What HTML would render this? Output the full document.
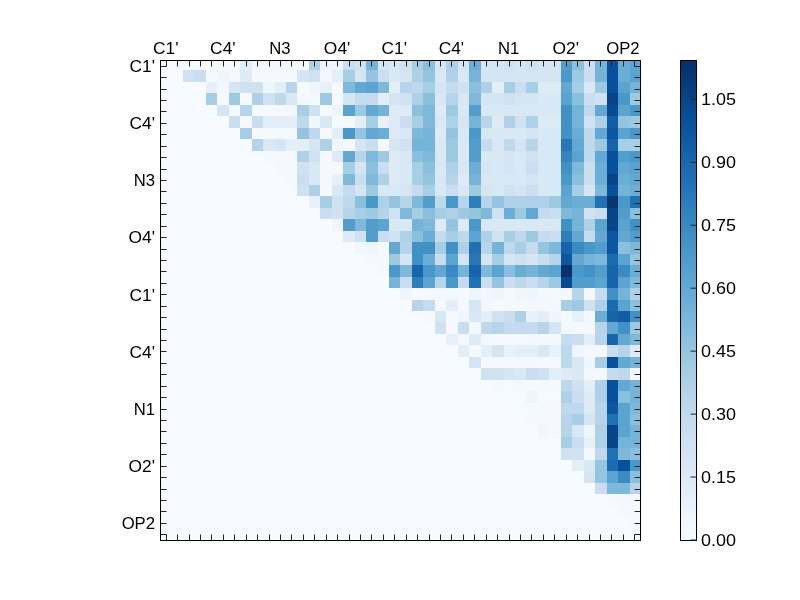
<!DOCTYPE html>
<html><head><meta charset="utf-8"><style>
html,body{margin:0;padding:0;background:#fff;}
body{width:800px;height:600px;overflow:hidden;}
svg{display:block;}
text{font-family:"Liberation Sans",sans-serif;font-size:16.67px;fill:#000;}
</style></head><body>
<svg width="800" height="600" viewBox="0 0 800 600">
<defs><linearGradient id="g" x1="0" y1="0" x2="0" y2="1"><stop offset="0.000" stop-color="#08306b"/><stop offset="0.050" stop-color="#083c7d"/><stop offset="0.100" stop-color="#084a91"/><stop offset="0.150" stop-color="#0d57a1"/><stop offset="0.200" stop-color="#1764ab"/><stop offset="0.250" stop-color="#2070b4"/><stop offset="0.300" stop-color="#2e7ebc"/><stop offset="0.350" stop-color="#3b8bc2"/><stop offset="0.400" stop-color="#4a98c9"/><stop offset="0.450" stop-color="#5ba3d0"/><stop offset="0.500" stop-color="#6aaed6"/><stop offset="0.550" stop-color="#7fb9da"/><stop offset="0.600" stop-color="#94c4df"/><stop offset="0.650" stop-color="#a6cee4"/><stop offset="0.700" stop-color="#b7d4ea"/><stop offset="0.750" stop-color="#c6dbef"/><stop offset="0.800" stop-color="#d0e1f2"/><stop offset="0.850" stop-color="#d9e8f5"/><stop offset="0.900" stop-color="#e3eef9"/><stop offset="0.950" stop-color="#eef5fc"/><stop offset="1.000" stop-color="#f7fbff"/></linearGradient></defs>
<rect x="0" y="0" width="800" height="600" fill="#fff"/>
<g shape-rendering="crispEdges">
<rect x="161" y="61" width="479" height="479" fill="#f7fbff"/>
<rect x="171" y="61" width="12" height="9" fill="#f5fafe"/>
<rect x="183" y="61" width="11" height="9" fill="#f5fafe"/>
<rect x="194" y="61" width="12" height="9" fill="#f5fafe"/>
<rect x="240" y="61" width="12" height="9" fill="#e3eef9"/>
<rect x="252" y="61" width="11" height="9" fill="#f2f8fd"/>
<rect x="263" y="61" width="12" height="9" fill="#f2f8fd"/>
<rect x="275" y="61" width="11" height="9" fill="#f2f8fd"/>
<rect x="286" y="61" width="11" height="9" fill="#f2f8fd"/>
<rect x="309" y="61" width="11" height="9" fill="#aed1e7"/>
<rect x="320" y="61" width="12" height="9" fill="#eef5fc"/>
<rect x="332" y="61" width="11" height="9" fill="#eff6fc"/>
<rect x="343" y="61" width="12" height="9" fill="#cbdef1"/>
<rect x="355" y="61" width="11" height="9" fill="#d0e1f2"/>
<rect x="366" y="61" width="12" height="9" fill="#75b4d8"/>
<rect x="378" y="61" width="11" height="9" fill="#d5e5f4"/>
<rect x="389" y="61" width="11" height="9" fill="#d9e8f5"/>
<rect x="400" y="61" width="12" height="9" fill="#d0e1f2"/>
<rect x="412" y="61" width="11" height="9" fill="#a6cee4"/>
<rect x="423" y="61" width="12" height="9" fill="#8abfdd"/>
<rect x="435" y="61" width="11" height="9" fill="#d5e5f4"/>
<rect x="446" y="61" width="12" height="9" fill="#aed1e7"/>
<rect x="458" y="61" width="11" height="9" fill="#d5e5f4"/>
<rect x="469" y="61" width="12" height="9" fill="#6aaed6"/>
<rect x="481" y="61" width="11" height="9" fill="#d5e5f4"/>
<rect x="492" y="61" width="12" height="9" fill="#d5e5f4"/>
<rect x="504" y="61" width="11" height="9" fill="#d0e1f2"/>
<rect x="515" y="61" width="11" height="9" fill="#d5e5f4"/>
<rect x="526" y="61" width="12" height="9" fill="#d0e1f2"/>
<rect x="538" y="61" width="11" height="9" fill="#d5e5f4"/>
<rect x="549" y="61" width="12" height="9" fill="#d5e5f4"/>
<rect x="561" y="61" width="11" height="9" fill="#529dcc"/>
<rect x="572" y="61" width="12" height="9" fill="#8abfdd"/>
<rect x="584" y="61" width="11" height="9" fill="#cbdef1"/>
<rect x="595" y="61" width="12" height="9" fill="#75b4d8"/>
<rect x="607" y="61" width="11" height="9" fill="#08509b"/>
<rect x="618" y="61" width="12" height="9" fill="#6aaed6"/>
<rect x="630" y="61" width="10" height="9" fill="#5ba3d0"/>
<rect x="183" y="70" width="11" height="12" fill="#d0e1f2"/>
<rect x="194" y="70" width="12" height="12" fill="#cbdef1"/>
<rect x="206" y="70" width="11" height="12" fill="#f5f9fe"/>
<rect x="217" y="70" width="12" height="12" fill="#eef5fc"/>
<rect x="229" y="70" width="11" height="12" fill="#f5f9fe"/>
<rect x="240" y="70" width="12" height="12" fill="#deebf7"/>
<rect x="252" y="70" width="11" height="12" fill="#f5f9fe"/>
<rect x="263" y="70" width="12" height="12" fill="#f5f9fe"/>
<rect x="275" y="70" width="11" height="12" fill="#f5f9fe"/>
<rect x="286" y="70" width="11" height="12" fill="#f5f9fe"/>
<rect x="297" y="70" width="12" height="12" fill="#d5e5f4"/>
<rect x="309" y="70" width="11" height="12" fill="#d0e1f2"/>
<rect x="320" y="70" width="12" height="12" fill="#f2f8fd"/>
<rect x="332" y="70" width="11" height="12" fill="#e3eef9"/>
<rect x="343" y="70" width="12" height="12" fill="#a6cee4"/>
<rect x="355" y="70" width="11" height="12" fill="#d5e5f4"/>
<rect x="366" y="70" width="12" height="12" fill="#94c4df"/>
<rect x="378" y="70" width="11" height="12" fill="#cbdef1"/>
<rect x="389" y="70" width="11" height="12" fill="#d9e8f5"/>
<rect x="400" y="70" width="12" height="12" fill="#d5e5f4"/>
<rect x="412" y="70" width="11" height="12" fill="#aed1e7"/>
<rect x="423" y="70" width="12" height="12" fill="#94c4df"/>
<rect x="435" y="70" width="11" height="12" fill="#d9e8f5"/>
<rect x="446" y="70" width="12" height="12" fill="#aed1e7"/>
<rect x="458" y="70" width="11" height="12" fill="#d9e8f5"/>
<rect x="469" y="70" width="12" height="12" fill="#75b4d8"/>
<rect x="481" y="70" width="11" height="12" fill="#d5e5f4"/>
<rect x="492" y="70" width="12" height="12" fill="#d5e5f4"/>
<rect x="504" y="70" width="11" height="12" fill="#d5e5f4"/>
<rect x="515" y="70" width="11" height="12" fill="#d5e5f4"/>
<rect x="526" y="70" width="12" height="12" fill="#d5e5f4"/>
<rect x="538" y="70" width="11" height="12" fill="#d5e5f4"/>
<rect x="549" y="70" width="12" height="12" fill="#d5e5f4"/>
<rect x="561" y="70" width="11" height="12" fill="#4a98c9"/>
<rect x="572" y="70" width="12" height="12" fill="#9dcae1"/>
<rect x="584" y="70" width="11" height="12" fill="#cbdef1"/>
<rect x="595" y="70" width="12" height="12" fill="#75b4d8"/>
<rect x="607" y="70" width="11" height="12" fill="#08509b"/>
<rect x="618" y="70" width="12" height="12" fill="#6aaed6"/>
<rect x="630" y="70" width="10" height="12" fill="#5ba3d0"/>
<rect x="206" y="82" width="11" height="11" fill="#e8f1fa"/>
<rect x="217" y="82" width="12" height="11" fill="#f2f8fd"/>
<rect x="229" y="82" width="11" height="11" fill="#d5e5f4"/>
<rect x="240" y="82" width="12" height="11" fill="#d0e1f2"/>
<rect x="252" y="82" width="11" height="11" fill="#d0e1f2"/>
<rect x="263" y="82" width="12" height="11" fill="#eef5fc"/>
<rect x="275" y="82" width="11" height="11" fill="#e3eef9"/>
<rect x="286" y="82" width="11" height="11" fill="#b7d4ea"/>
<rect x="309" y="82" width="11" height="11" fill="#eef5fc"/>
<rect x="320" y="82" width="12" height="11" fill="#e8f1fa"/>
<rect x="332" y="82" width="11" height="11" fill="#f5f9fe"/>
<rect x="343" y="82" width="12" height="11" fill="#7fb9da"/>
<rect x="355" y="82" width="11" height="11" fill="#63a8d3"/>
<rect x="366" y="82" width="12" height="11" fill="#5ba3d0"/>
<rect x="378" y="82" width="11" height="11" fill="#7fb9da"/>
<rect x="389" y="82" width="11" height="11" fill="#e3eef9"/>
<rect x="400" y="82" width="12" height="11" fill="#b7d4ea"/>
<rect x="412" y="82" width="11" height="11" fill="#bed8ec"/>
<rect x="423" y="82" width="12" height="11" fill="#a6cee4"/>
<rect x="435" y="82" width="11" height="11" fill="#d5e5f4"/>
<rect x="446" y="82" width="12" height="11" fill="#c6dbef"/>
<rect x="458" y="82" width="11" height="11" fill="#d0e1f2"/>
<rect x="469" y="82" width="12" height="11" fill="#8abfdd"/>
<rect x="481" y="82" width="11" height="11" fill="#aed1e7"/>
<rect x="492" y="82" width="12" height="11" fill="#e3eef9"/>
<rect x="504" y="82" width="11" height="11" fill="#a6cee4"/>
<rect x="515" y="82" width="11" height="11" fill="#cbdef1"/>
<rect x="526" y="82" width="12" height="11" fill="#a6cee4"/>
<rect x="538" y="82" width="11" height="11" fill="#deebf7"/>
<rect x="549" y="82" width="12" height="11" fill="#deebf7"/>
<rect x="561" y="82" width="11" height="11" fill="#63a8d3"/>
<rect x="572" y="82" width="12" height="11" fill="#a6cee4"/>
<rect x="584" y="82" width="11" height="11" fill="#d9e8f5"/>
<rect x="595" y="82" width="12" height="11" fill="#9dcae1"/>
<rect x="607" y="82" width="11" height="11" fill="#08509b"/>
<rect x="618" y="82" width="12" height="11" fill="#5ba3d0"/>
<rect x="630" y="82" width="10" height="11" fill="#75b4d8"/>
<rect x="206" y="93" width="11" height="12" fill="#a6cee4"/>
<rect x="217" y="93" width="12" height="12" fill="#f5f9fe"/>
<rect x="229" y="93" width="11" height="12" fill="#9dcae1"/>
<rect x="240" y="93" width="12" height="12" fill="#f5f9fe"/>
<rect x="252" y="93" width="11" height="12" fill="#aed1e7"/>
<rect x="263" y="93" width="12" height="12" fill="#d0e1f2"/>
<rect x="275" y="93" width="11" height="12" fill="#bed8ec"/>
<rect x="286" y="93" width="11" height="12" fill="#d9e8f5"/>
<rect x="297" y="93" width="12" height="12" fill="#f2f8fd"/>
<rect x="309" y="93" width="11" height="12" fill="#f5f9fe"/>
<rect x="320" y="93" width="12" height="12" fill="#9dcae1"/>
<rect x="332" y="93" width="11" height="12" fill="#f2f8fd"/>
<rect x="343" y="93" width="12" height="12" fill="#d5e5f4"/>
<rect x="355" y="93" width="11" height="12" fill="#c6dbef"/>
<rect x="366" y="93" width="12" height="12" fill="#c6dbef"/>
<rect x="378" y="93" width="11" height="12" fill="#e3eef9"/>
<rect x="389" y="93" width="11" height="12" fill="#d5e5f4"/>
<rect x="400" y="93" width="12" height="12" fill="#d0e1f2"/>
<rect x="412" y="93" width="11" height="12" fill="#aed1e7"/>
<rect x="423" y="93" width="12" height="12" fill="#8abfdd"/>
<rect x="435" y="93" width="11" height="12" fill="#d9e8f5"/>
<rect x="446" y="93" width="12" height="12" fill="#b7d4ea"/>
<rect x="458" y="93" width="11" height="12" fill="#d9e8f5"/>
<rect x="469" y="93" width="12" height="12" fill="#7fb9da"/>
<rect x="481" y="93" width="11" height="12" fill="#d5e5f4"/>
<rect x="492" y="93" width="12" height="12" fill="#d5e5f4"/>
<rect x="504" y="93" width="11" height="12" fill="#d0e1f2"/>
<rect x="515" y="93" width="11" height="12" fill="#d5e5f4"/>
<rect x="526" y="93" width="12" height="12" fill="#d5e5f4"/>
<rect x="538" y="93" width="11" height="12" fill="#d9e8f5"/>
<rect x="549" y="93" width="12" height="12" fill="#d9e8f5"/>
<rect x="561" y="93" width="11" height="12" fill="#5ba3d0"/>
<rect x="572" y="93" width="12" height="12" fill="#8abfdd"/>
<rect x="584" y="93" width="11" height="12" fill="#cbdef1"/>
<rect x="595" y="93" width="12" height="12" fill="#d0e1f2"/>
<rect x="607" y="93" width="11" height="12" fill="#084488"/>
<rect x="618" y="93" width="12" height="12" fill="#4a98c9"/>
<rect x="630" y="93" width="10" height="12" fill="#9dcae1"/>
<rect x="217" y="105" width="12" height="11" fill="#d5e5f4"/>
<rect x="229" y="105" width="11" height="11" fill="#f2f8fd"/>
<rect x="240" y="105" width="12" height="11" fill="#b7d4ea"/>
<rect x="252" y="105" width="11" height="11" fill="#f5f9fe"/>
<rect x="263" y="105" width="12" height="11" fill="#f5f9fe"/>
<rect x="275" y="105" width="11" height="11" fill="#f5f9fe"/>
<rect x="286" y="105" width="11" height="11" fill="#f2f8fd"/>
<rect x="297" y="105" width="12" height="11" fill="#a6cee4"/>
<rect x="309" y="105" width="11" height="11" fill="#d0e1f2"/>
<rect x="320" y="105" width="12" height="11" fill="#f5f9fe"/>
<rect x="332" y="105" width="11" height="11" fill="#eef5fc"/>
<rect x="343" y="105" width="12" height="11" fill="#5ba3d0"/>
<rect x="355" y="105" width="11" height="11" fill="#9dcae1"/>
<rect x="366" y="105" width="12" height="11" fill="#63a8d3"/>
<rect x="378" y="105" width="11" height="11" fill="#75b4d8"/>
<rect x="389" y="105" width="11" height="11" fill="#deebf7"/>
<rect x="400" y="105" width="12" height="11" fill="#deebf7"/>
<rect x="412" y="105" width="11" height="11" fill="#8abfdd"/>
<rect x="423" y="105" width="12" height="11" fill="#7fb9da"/>
<rect x="435" y="105" width="11" height="11" fill="#deebf7"/>
<rect x="446" y="105" width="12" height="11" fill="#9dcae1"/>
<rect x="458" y="105" width="11" height="11" fill="#d9e8f5"/>
<rect x="469" y="105" width="12" height="11" fill="#529dcc"/>
<rect x="481" y="105" width="11" height="11" fill="#d9e8f5"/>
<rect x="492" y="105" width="12" height="11" fill="#d9e8f5"/>
<rect x="504" y="105" width="11" height="11" fill="#d9e8f5"/>
<rect x="515" y="105" width="11" height="11" fill="#d9e8f5"/>
<rect x="526" y="105" width="12" height="11" fill="#d9e8f5"/>
<rect x="538" y="105" width="11" height="11" fill="#d9e8f5"/>
<rect x="549" y="105" width="12" height="11" fill="#d9e8f5"/>
<rect x="561" y="105" width="11" height="11" fill="#4191c6"/>
<rect x="572" y="105" width="12" height="11" fill="#75b4d8"/>
<rect x="584" y="105" width="11" height="11" fill="#bed8ec"/>
<rect x="595" y="105" width="12" height="11" fill="#63a8d3"/>
<rect x="607" y="105" width="11" height="11" fill="#084a91"/>
<rect x="618" y="105" width="12" height="11" fill="#5ba3d0"/>
<rect x="630" y="105" width="10" height="11" fill="#4a98c9"/>
<rect x="229" y="116" width="11" height="12" fill="#cbdef1"/>
<rect x="240" y="116" width="12" height="12" fill="#f5f9fe"/>
<rect x="252" y="116" width="11" height="12" fill="#cbdef1"/>
<rect x="263" y="116" width="12" height="12" fill="#e3eef9"/>
<rect x="275" y="116" width="11" height="12" fill="#e3eef9"/>
<rect x="286" y="116" width="11" height="12" fill="#e3eef9"/>
<rect x="297" y="116" width="12" height="12" fill="#bed8ec"/>
<rect x="309" y="116" width="11" height="12" fill="#eff6fc"/>
<rect x="320" y="116" width="12" height="12" fill="#d9e8f5"/>
<rect x="332" y="116" width="11" height="12" fill="#f5f9fe"/>
<rect x="343" y="116" width="12" height="12" fill="#f5f9fe"/>
<rect x="355" y="116" width="11" height="12" fill="#e3eef9"/>
<rect x="366" y="116" width="12" height="12" fill="#a6cee4"/>
<rect x="378" y="116" width="11" height="12" fill="#e8f1fa"/>
<rect x="389" y="116" width="11" height="12" fill="#deebf7"/>
<rect x="400" y="116" width="12" height="12" fill="#cbdef1"/>
<rect x="412" y="116" width="11" height="12" fill="#a6cee4"/>
<rect x="423" y="116" width="12" height="12" fill="#7fb9da"/>
<rect x="435" y="116" width="11" height="12" fill="#d9e8f5"/>
<rect x="446" y="116" width="12" height="12" fill="#aed1e7"/>
<rect x="458" y="116" width="11" height="12" fill="#d5e5f4"/>
<rect x="469" y="116" width="12" height="12" fill="#75b4d8"/>
<rect x="481" y="116" width="11" height="12" fill="#b7d4ea"/>
<rect x="492" y="116" width="12" height="12" fill="#deebf7"/>
<rect x="504" y="116" width="11" height="12" fill="#aed1e7"/>
<rect x="515" y="116" width="11" height="12" fill="#d0e1f2"/>
<rect x="526" y="116" width="12" height="12" fill="#aed1e7"/>
<rect x="538" y="116" width="11" height="12" fill="#deebf7"/>
<rect x="549" y="116" width="12" height="12" fill="#deebf7"/>
<rect x="561" y="116" width="11" height="12" fill="#4191c6"/>
<rect x="572" y="116" width="12" height="12" fill="#75b4d8"/>
<rect x="584" y="116" width="11" height="12" fill="#d0e1f2"/>
<rect x="595" y="116" width="12" height="12" fill="#aed1e7"/>
<rect x="607" y="116" width="11" height="12" fill="#125da6"/>
<rect x="618" y="116" width="12" height="12" fill="#94c4df"/>
<rect x="630" y="116" width="10" height="12" fill="#9dcae1"/>
<rect x="240" y="128" width="12" height="11" fill="#a6cee4"/>
<rect x="252" y="128" width="11" height="11" fill="#f5f9fe"/>
<rect x="263" y="128" width="12" height="11" fill="#f5f9fe"/>
<rect x="275" y="128" width="11" height="11" fill="#f5f9fe"/>
<rect x="286" y="128" width="11" height="11" fill="#f5f9fe"/>
<rect x="297" y="128" width="12" height="11" fill="#94c4df"/>
<rect x="309" y="128" width="11" height="11" fill="#bed8ec"/>
<rect x="320" y="128" width="12" height="11" fill="#f5f9fe"/>
<rect x="332" y="128" width="11" height="11" fill="#e3eef9"/>
<rect x="343" y="128" width="12" height="11" fill="#4a98c9"/>
<rect x="355" y="128" width="11" height="11" fill="#94c4df"/>
<rect x="366" y="128" width="12" height="11" fill="#63a8d3"/>
<rect x="378" y="128" width="11" height="11" fill="#6aaed6"/>
<rect x="389" y="128" width="11" height="11" fill="#deebf7"/>
<rect x="400" y="128" width="12" height="11" fill="#d9e8f5"/>
<rect x="412" y="128" width="11" height="11" fill="#7fb9da"/>
<rect x="423" y="128" width="12" height="11" fill="#75b4d8"/>
<rect x="435" y="128" width="11" height="11" fill="#deebf7"/>
<rect x="446" y="128" width="12" height="11" fill="#94c4df"/>
<rect x="458" y="128" width="11" height="11" fill="#d9e8f5"/>
<rect x="469" y="128" width="12" height="11" fill="#4a98c9"/>
<rect x="481" y="128" width="11" height="11" fill="#d9e8f5"/>
<rect x="492" y="128" width="12" height="11" fill="#d9e8f5"/>
<rect x="504" y="128" width="11" height="11" fill="#d9e8f5"/>
<rect x="515" y="128" width="11" height="11" fill="#d9e8f5"/>
<rect x="526" y="128" width="12" height="11" fill="#d5e5f4"/>
<rect x="538" y="128" width="11" height="11" fill="#d9e8f5"/>
<rect x="549" y="128" width="12" height="11" fill="#d9e8f5"/>
<rect x="561" y="128" width="11" height="11" fill="#4191c6"/>
<rect x="572" y="128" width="12" height="11" fill="#6aaed6"/>
<rect x="584" y="128" width="11" height="11" fill="#bed8ec"/>
<rect x="595" y="128" width="12" height="11" fill="#63a8d3"/>
<rect x="607" y="128" width="11" height="11" fill="#0d57a1"/>
<rect x="618" y="128" width="12" height="11" fill="#5ba3d0"/>
<rect x="630" y="128" width="10" height="11" fill="#4a98c9"/>
<rect x="252" y="139" width="11" height="12" fill="#b7d4ea"/>
<rect x="263" y="139" width="12" height="12" fill="#d9e8f5"/>
<rect x="275" y="139" width="11" height="12" fill="#d5e5f4"/>
<rect x="286" y="139" width="11" height="12" fill="#e3eef9"/>
<rect x="297" y="139" width="12" height="12" fill="#e3eef9"/>
<rect x="309" y="139" width="11" height="12" fill="#d5e5f4"/>
<rect x="320" y="139" width="12" height="12" fill="#aed1e7"/>
<rect x="332" y="139" width="11" height="12" fill="#eff6fc"/>
<rect x="343" y="139" width="12" height="12" fill="#f5f9fe"/>
<rect x="355" y="139" width="11" height="12" fill="#d5e5f4"/>
<rect x="366" y="139" width="12" height="12" fill="#cbdef1"/>
<rect x="378" y="139" width="11" height="12" fill="#f5f9fe"/>
<rect x="389" y="139" width="11" height="12" fill="#d5e5f4"/>
<rect x="400" y="139" width="12" height="12" fill="#d0e1f2"/>
<rect x="412" y="139" width="11" height="12" fill="#75b4d8"/>
<rect x="423" y="139" width="12" height="12" fill="#75b4d8"/>
<rect x="435" y="139" width="11" height="12" fill="#d9e8f5"/>
<rect x="446" y="139" width="12" height="12" fill="#9dcae1"/>
<rect x="458" y="139" width="11" height="12" fill="#d9e8f5"/>
<rect x="469" y="139" width="12" height="12" fill="#529dcc"/>
<rect x="481" y="139" width="11" height="12" fill="#c6dbef"/>
<rect x="492" y="139" width="12" height="12" fill="#d9e8f5"/>
<rect x="504" y="139" width="11" height="12" fill="#bed8ec"/>
<rect x="515" y="139" width="11" height="12" fill="#d5e5f4"/>
<rect x="526" y="139" width="12" height="12" fill="#b7d4ea"/>
<rect x="538" y="139" width="11" height="12" fill="#d9e8f5"/>
<rect x="549" y="139" width="12" height="12" fill="#d9e8f5"/>
<rect x="561" y="139" width="11" height="12" fill="#2777b8"/>
<rect x="572" y="139" width="12" height="12" fill="#63a8d3"/>
<rect x="584" y="139" width="11" height="12" fill="#bed8ec"/>
<rect x="595" y="139" width="12" height="12" fill="#9dcae1"/>
<rect x="607" y="139" width="11" height="12" fill="#1764ab"/>
<rect x="618" y="139" width="12" height="12" fill="#a6cee4"/>
<rect x="630" y="139" width="10" height="12" fill="#a6cee4"/>
<rect x="263" y="151" width="12" height="11" fill="#f5f9fe"/>
<rect x="275" y="151" width="11" height="11" fill="#f5f9fe"/>
<rect x="286" y="151" width="11" height="11" fill="#f5f9fe"/>
<rect x="297" y="151" width="12" height="11" fill="#aed1e7"/>
<rect x="309" y="151" width="11" height="11" fill="#d0e1f2"/>
<rect x="320" y="151" width="12" height="11" fill="#f5f9fe"/>
<rect x="332" y="151" width="11" height="11" fill="#deebf7"/>
<rect x="343" y="151" width="12" height="11" fill="#63a8d3"/>
<rect x="355" y="151" width="11" height="11" fill="#b7d4ea"/>
<rect x="366" y="151" width="12" height="11" fill="#7fb9da"/>
<rect x="378" y="151" width="11" height="11" fill="#9dcae1"/>
<rect x="389" y="151" width="11" height="11" fill="#deebf7"/>
<rect x="400" y="151" width="12" height="11" fill="#d9e8f5"/>
<rect x="412" y="151" width="11" height="11" fill="#8abfdd"/>
<rect x="423" y="151" width="12" height="11" fill="#7fb9da"/>
<rect x="435" y="151" width="11" height="11" fill="#d9e8f5"/>
<rect x="446" y="151" width="12" height="11" fill="#9dcae1"/>
<rect x="458" y="151" width="11" height="11" fill="#d9e8f5"/>
<rect x="469" y="151" width="12" height="11" fill="#529dcc"/>
<rect x="481" y="151" width="11" height="11" fill="#d9e8f5"/>
<rect x="492" y="151" width="12" height="11" fill="#d9e8f5"/>
<rect x="504" y="151" width="11" height="11" fill="#d5e5f4"/>
<rect x="515" y="151" width="11" height="11" fill="#d9e8f5"/>
<rect x="526" y="151" width="12" height="11" fill="#d0e1f2"/>
<rect x="538" y="151" width="11" height="11" fill="#d9e8f5"/>
<rect x="549" y="151" width="12" height="11" fill="#d9e8f5"/>
<rect x="561" y="151" width="11" height="11" fill="#3585bf"/>
<rect x="572" y="151" width="12" height="11" fill="#5ba3d0"/>
<rect x="584" y="151" width="11" height="11" fill="#bed8ec"/>
<rect x="595" y="151" width="12" height="11" fill="#63a8d3"/>
<rect x="607" y="151" width="11" height="11" fill="#08509b"/>
<rect x="618" y="151" width="12" height="11" fill="#529dcc"/>
<rect x="630" y="151" width="10" height="11" fill="#4a98c9"/>
<rect x="275" y="162" width="11" height="12" fill="#f5f9fe"/>
<rect x="286" y="162" width="11" height="12" fill="#f5f9fe"/>
<rect x="297" y="162" width="12" height="12" fill="#d0e1f2"/>
<rect x="309" y="162" width="11" height="12" fill="#d9e8f5"/>
<rect x="320" y="162" width="12" height="12" fill="#f5f9fe"/>
<rect x="332" y="162" width="11" height="12" fill="#f5f9fe"/>
<rect x="343" y="162" width="12" height="12" fill="#a6cee4"/>
<rect x="355" y="162" width="11" height="12" fill="#d5e5f4"/>
<rect x="366" y="162" width="12" height="12" fill="#8abfdd"/>
<rect x="378" y="162" width="11" height="12" fill="#cbdef1"/>
<rect x="389" y="162" width="11" height="12" fill="#deebf7"/>
<rect x="400" y="162" width="12" height="12" fill="#d9e8f5"/>
<rect x="412" y="162" width="11" height="12" fill="#a6cee4"/>
<rect x="423" y="162" width="12" height="12" fill="#8abfdd"/>
<rect x="435" y="162" width="11" height="12" fill="#d9e8f5"/>
<rect x="446" y="162" width="12" height="12" fill="#aed1e7"/>
<rect x="458" y="162" width="11" height="12" fill="#d9e8f5"/>
<rect x="469" y="162" width="12" height="12" fill="#6aaed6"/>
<rect x="481" y="162" width="11" height="12" fill="#d5e5f4"/>
<rect x="492" y="162" width="12" height="12" fill="#d9e8f5"/>
<rect x="504" y="162" width="11" height="12" fill="#d5e5f4"/>
<rect x="515" y="162" width="11" height="12" fill="#d9e8f5"/>
<rect x="526" y="162" width="12" height="12" fill="#cbdef1"/>
<rect x="538" y="162" width="11" height="12" fill="#d9e8f5"/>
<rect x="549" y="162" width="12" height="12" fill="#d9e8f5"/>
<rect x="561" y="162" width="11" height="12" fill="#4191c6"/>
<rect x="572" y="162" width="12" height="12" fill="#7fb9da"/>
<rect x="584" y="162" width="11" height="12" fill="#cbdef1"/>
<rect x="595" y="162" width="12" height="12" fill="#6aaed6"/>
<rect x="607" y="162" width="11" height="12" fill="#08509b"/>
<rect x="618" y="162" width="12" height="12" fill="#63a8d3"/>
<rect x="630" y="162" width="10" height="12" fill="#5ba3d0"/>
<rect x="286" y="174" width="11" height="11" fill="#f5f9fe"/>
<rect x="297" y="174" width="12" height="11" fill="#cbdef1"/>
<rect x="309" y="174" width="11" height="11" fill="#d9e8f5"/>
<rect x="320" y="174" width="12" height="11" fill="#f5f9fe"/>
<rect x="332" y="174" width="11" height="11" fill="#e8f1fa"/>
<rect x="343" y="174" width="12" height="11" fill="#7fb9da"/>
<rect x="355" y="174" width="11" height="11" fill="#cbdef1"/>
<rect x="366" y="174" width="12" height="11" fill="#7fb9da"/>
<rect x="378" y="174" width="11" height="11" fill="#aed1e7"/>
<rect x="389" y="174" width="11" height="11" fill="#deebf7"/>
<rect x="400" y="174" width="12" height="11" fill="#d9e8f5"/>
<rect x="412" y="174" width="11" height="11" fill="#a6cee4"/>
<rect x="423" y="174" width="12" height="11" fill="#94c4df"/>
<rect x="435" y="174" width="11" height="11" fill="#d9e8f5"/>
<rect x="446" y="174" width="12" height="11" fill="#b7d4ea"/>
<rect x="458" y="174" width="11" height="11" fill="#deebf7"/>
<rect x="469" y="174" width="12" height="11" fill="#75b4d8"/>
<rect x="481" y="174" width="11" height="11" fill="#d9e8f5"/>
<rect x="492" y="174" width="12" height="11" fill="#d9e8f5"/>
<rect x="504" y="174" width="11" height="11" fill="#d9e8f5"/>
<rect x="515" y="174" width="11" height="11" fill="#d9e8f5"/>
<rect x="526" y="174" width="12" height="11" fill="#d5e5f4"/>
<rect x="538" y="174" width="11" height="11" fill="#d9e8f5"/>
<rect x="549" y="174" width="12" height="11" fill="#d9e8f5"/>
<rect x="561" y="174" width="11" height="11" fill="#4a98c9"/>
<rect x="572" y="174" width="12" height="11" fill="#8abfdd"/>
<rect x="584" y="174" width="11" height="11" fill="#cbdef1"/>
<rect x="595" y="174" width="12" height="11" fill="#6aaed6"/>
<rect x="607" y="174" width="11" height="11" fill="#084488"/>
<rect x="618" y="174" width="12" height="11" fill="#6aaed6"/>
<rect x="630" y="174" width="10" height="11" fill="#63a8d3"/>
<rect x="297" y="185" width="12" height="11" fill="#d0e1f2"/>
<rect x="309" y="185" width="11" height="11" fill="#aed1e7"/>
<rect x="320" y="185" width="12" height="11" fill="#f5f9fe"/>
<rect x="332" y="185" width="11" height="11" fill="#d9e8f5"/>
<rect x="343" y="185" width="12" height="11" fill="#c6dbef"/>
<rect x="355" y="185" width="11" height="11" fill="#d5e5f4"/>
<rect x="366" y="185" width="12" height="11" fill="#9dcae1"/>
<rect x="378" y="185" width="11" height="11" fill="#d9e8f5"/>
<rect x="389" y="185" width="11" height="11" fill="#d9e8f5"/>
<rect x="400" y="185" width="12" height="11" fill="#d5e5f4"/>
<rect x="412" y="185" width="11" height="11" fill="#c6dbef"/>
<rect x="423" y="185" width="12" height="11" fill="#a6cee4"/>
<rect x="435" y="185" width="11" height="11" fill="#d9e8f5"/>
<rect x="446" y="185" width="12" height="11" fill="#cbdef1"/>
<rect x="458" y="185" width="11" height="11" fill="#d9e8f5"/>
<rect x="469" y="185" width="12" height="11" fill="#9dcae1"/>
<rect x="481" y="185" width="11" height="11" fill="#d5e5f4"/>
<rect x="492" y="185" width="12" height="11" fill="#d9e8f5"/>
<rect x="504" y="185" width="11" height="11" fill="#d0e1f2"/>
<rect x="515" y="185" width="11" height="11" fill="#d5e5f4"/>
<rect x="526" y="185" width="12" height="11" fill="#cbdef1"/>
<rect x="538" y="185" width="11" height="11" fill="#d9e8f5"/>
<rect x="549" y="185" width="12" height="11" fill="#d9e8f5"/>
<rect x="561" y="185" width="11" height="11" fill="#5ba3d0"/>
<rect x="572" y="185" width="12" height="11" fill="#a6cee4"/>
<rect x="584" y="185" width="11" height="11" fill="#d5e5f4"/>
<rect x="595" y="185" width="12" height="11" fill="#7fb9da"/>
<rect x="607" y="185" width="11" height="11" fill="#08509b"/>
<rect x="618" y="185" width="12" height="11" fill="#75b4d8"/>
<rect x="630" y="185" width="10" height="11" fill="#6aaed6"/>
<rect x="309" y="196" width="11" height="12" fill="#e8f1fa"/>
<rect x="320" y="196" width="12" height="12" fill="#a6cee4"/>
<rect x="332" y="196" width="11" height="12" fill="#d0e1f2"/>
<rect x="343" y="196" width="12" height="12" fill="#bed8ec"/>
<rect x="355" y="196" width="11" height="12" fill="#8abfdd"/>
<rect x="366" y="196" width="12" height="12" fill="#4a98c9"/>
<rect x="378" y="196" width="11" height="12" fill="#aed1e7"/>
<rect x="389" y="196" width="11" height="12" fill="#94c4df"/>
<rect x="400" y="196" width="12" height="12" fill="#b7d4ea"/>
<rect x="412" y="196" width="11" height="12" fill="#7fb9da"/>
<rect x="423" y="196" width="12" height="12" fill="#529dcc"/>
<rect x="435" y="196" width="11" height="12" fill="#bed8ec"/>
<rect x="446" y="196" width="12" height="12" fill="#4a98c9"/>
<rect x="458" y="196" width="11" height="12" fill="#b7d4ea"/>
<rect x="469" y="196" width="12" height="12" fill="#2e7ebc"/>
<rect x="481" y="196" width="11" height="12" fill="#b7d4ea"/>
<rect x="492" y="196" width="12" height="12" fill="#94c4df"/>
<rect x="504" y="196" width="11" height="12" fill="#aed1e7"/>
<rect x="515" y="196" width="11" height="12" fill="#aed1e7"/>
<rect x="526" y="196" width="12" height="12" fill="#aed1e7"/>
<rect x="538" y="196" width="11" height="12" fill="#aed1e7"/>
<rect x="549" y="196" width="12" height="12" fill="#9dcae1"/>
<rect x="561" y="196" width="11" height="12" fill="#63a8d3"/>
<rect x="572" y="196" width="12" height="12" fill="#6aaed6"/>
<rect x="584" y="196" width="11" height="12" fill="#6aaed6"/>
<rect x="595" y="196" width="12" height="12" fill="#2070b4"/>
<rect x="607" y="196" width="11" height="12" fill="#083674"/>
<rect x="618" y="196" width="12" height="12" fill="#4a98c9"/>
<rect x="630" y="196" width="10" height="12" fill="#2070b4"/>
<rect x="320" y="208" width="12" height="11" fill="#cbdef1"/>
<rect x="332" y="208" width="11" height="11" fill="#d0e1f2"/>
<rect x="343" y="208" width="12" height="11" fill="#b7d4ea"/>
<rect x="355" y="208" width="11" height="11" fill="#a6cee4"/>
<rect x="366" y="208" width="12" height="11" fill="#9dcae1"/>
<rect x="378" y="208" width="11" height="11" fill="#b7d4ea"/>
<rect x="389" y="208" width="11" height="11" fill="#d0e1f2"/>
<rect x="400" y="208" width="12" height="11" fill="#7fb9da"/>
<rect x="412" y="208" width="11" height="11" fill="#a6cee4"/>
<rect x="423" y="208" width="12" height="11" fill="#8abfdd"/>
<rect x="435" y="208" width="11" height="11" fill="#a6cee4"/>
<rect x="446" y="208" width="12" height="11" fill="#aed1e7"/>
<rect x="458" y="208" width="11" height="11" fill="#9dcae1"/>
<rect x="469" y="208" width="12" height="11" fill="#94c4df"/>
<rect x="481" y="208" width="11" height="11" fill="#7fb9da"/>
<rect x="492" y="208" width="12" height="11" fill="#d0e1f2"/>
<rect x="504" y="208" width="11" height="11" fill="#6aaed6"/>
<rect x="515" y="208" width="11" height="11" fill="#9dcae1"/>
<rect x="526" y="208" width="12" height="11" fill="#63a8d3"/>
<rect x="538" y="208" width="11" height="11" fill="#c6dbef"/>
<rect x="549" y="208" width="12" height="11" fill="#cbdef1"/>
<rect x="561" y="208" width="11" height="11" fill="#7fb9da"/>
<rect x="572" y="208" width="12" height="11" fill="#75b4d8"/>
<rect x="584" y="208" width="11" height="11" fill="#d0e1f2"/>
<rect x="595" y="208" width="12" height="11" fill="#cbdef1"/>
<rect x="607" y="208" width="11" height="11" fill="#084488"/>
<rect x="618" y="208" width="12" height="11" fill="#529dcc"/>
<rect x="630" y="208" width="10" height="11" fill="#8abfdd"/>
<rect x="332" y="219" width="11" height="12" fill="#eef5fc"/>
<rect x="343" y="219" width="12" height="12" fill="#529dcc"/>
<rect x="355" y="219" width="11" height="12" fill="#7fb9da"/>
<rect x="366" y="219" width="12" height="12" fill="#529dcc"/>
<rect x="378" y="219" width="11" height="12" fill="#5ba3d0"/>
<rect x="389" y="219" width="11" height="12" fill="#d9e8f5"/>
<rect x="400" y="219" width="12" height="12" fill="#d9e8f5"/>
<rect x="412" y="219" width="11" height="12" fill="#75b4d8"/>
<rect x="423" y="219" width="12" height="12" fill="#7fb9da"/>
<rect x="435" y="219" width="11" height="12" fill="#deebf7"/>
<rect x="446" y="219" width="12" height="12" fill="#94c4df"/>
<rect x="458" y="219" width="11" height="12" fill="#deebf7"/>
<rect x="469" y="219" width="12" height="12" fill="#4a98c9"/>
<rect x="481" y="219" width="11" height="12" fill="#d9e8f5"/>
<rect x="492" y="219" width="12" height="12" fill="#d9e8f5"/>
<rect x="504" y="219" width="11" height="12" fill="#d9e8f5"/>
<rect x="515" y="219" width="11" height="12" fill="#d9e8f5"/>
<rect x="526" y="219" width="12" height="12" fill="#d9e8f5"/>
<rect x="538" y="219" width="11" height="12" fill="#d9e8f5"/>
<rect x="549" y="219" width="12" height="12" fill="#d9e8f5"/>
<rect x="561" y="219" width="11" height="12" fill="#4191c6"/>
<rect x="572" y="219" width="12" height="12" fill="#75b4d8"/>
<rect x="584" y="219" width="11" height="12" fill="#aed1e7"/>
<rect x="595" y="219" width="12" height="12" fill="#5ba3d0"/>
<rect x="607" y="219" width="11" height="12" fill="#084488"/>
<rect x="618" y="219" width="12" height="12" fill="#5ba3d0"/>
<rect x="630" y="219" width="10" height="12" fill="#4191c6"/>
<rect x="343" y="231" width="12" height="11" fill="#deebf7"/>
<rect x="355" y="231" width="11" height="11" fill="#d0e1f2"/>
<rect x="366" y="231" width="12" height="11" fill="#529dcc"/>
<rect x="378" y="231" width="11" height="11" fill="#cbdef1"/>
<rect x="389" y="231" width="11" height="11" fill="#d0e1f2"/>
<rect x="400" y="231" width="12" height="11" fill="#aed1e7"/>
<rect x="412" y="231" width="11" height="11" fill="#8abfdd"/>
<rect x="423" y="231" width="12" height="11" fill="#6aaed6"/>
<rect x="435" y="231" width="11" height="11" fill="#c6dbef"/>
<rect x="446" y="231" width="12" height="11" fill="#a6cee4"/>
<rect x="458" y="231" width="11" height="11" fill="#bed8ec"/>
<rect x="469" y="231" width="12" height="11" fill="#5ba3d0"/>
<rect x="481" y="231" width="11" height="11" fill="#aed1e7"/>
<rect x="492" y="231" width="12" height="11" fill="#d0e1f2"/>
<rect x="504" y="231" width="11" height="11" fill="#a6cee4"/>
<rect x="515" y="231" width="11" height="11" fill="#bed8ec"/>
<rect x="526" y="231" width="12" height="11" fill="#9dcae1"/>
<rect x="538" y="231" width="11" height="11" fill="#c6dbef"/>
<rect x="549" y="231" width="12" height="11" fill="#cbdef1"/>
<rect x="561" y="231" width="11" height="11" fill="#2e7ebc"/>
<rect x="572" y="231" width="12" height="11" fill="#63a8d3"/>
<rect x="584" y="231" width="11" height="11" fill="#c6dbef"/>
<rect x="595" y="231" width="12" height="11" fill="#63a8d3"/>
<rect x="607" y="231" width="11" height="11" fill="#0d57a1"/>
<rect x="618" y="231" width="12" height="11" fill="#63a8d3"/>
<rect x="630" y="231" width="10" height="11" fill="#529dcc"/>
<rect x="355" y="242" width="11" height="12" fill="#eff6fc"/>
<rect x="366" y="242" width="12" height="12" fill="#eef5fc"/>
<rect x="378" y="242" width="11" height="12" fill="#f5f9fe"/>
<rect x="389" y="242" width="11" height="12" fill="#63a8d3"/>
<rect x="400" y="242" width="12" height="12" fill="#b7d4ea"/>
<rect x="412" y="242" width="11" height="12" fill="#4191c6"/>
<rect x="423" y="242" width="12" height="12" fill="#4191c6"/>
<rect x="435" y="242" width="11" height="12" fill="#a6cee4"/>
<rect x="446" y="242" width="12" height="12" fill="#4191c6"/>
<rect x="458" y="242" width="11" height="12" fill="#aed1e7"/>
<rect x="469" y="242" width="12" height="12" fill="#2070b4"/>
<rect x="481" y="242" width="11" height="12" fill="#b7d4ea"/>
<rect x="492" y="242" width="12" height="12" fill="#75b4d8"/>
<rect x="504" y="242" width="11" height="12" fill="#bed8ec"/>
<rect x="515" y="242" width="11" height="12" fill="#a6cee4"/>
<rect x="526" y="242" width="12" height="12" fill="#c6dbef"/>
<rect x="538" y="242" width="11" height="12" fill="#94c4df"/>
<rect x="549" y="242" width="12" height="12" fill="#7fb9da"/>
<rect x="561" y="242" width="11" height="12" fill="#1764ab"/>
<rect x="572" y="242" width="12" height="12" fill="#3b8bc2"/>
<rect x="584" y="242" width="11" height="12" fill="#4a98c9"/>
<rect x="595" y="242" width="12" height="12" fill="#529dcc"/>
<rect x="607" y="242" width="11" height="12" fill="#0d57a1"/>
<rect x="618" y="242" width="12" height="12" fill="#8abfdd"/>
<rect x="630" y="242" width="10" height="12" fill="#7fb9da"/>
<rect x="366" y="254" width="12" height="11" fill="#f5f9fe"/>
<rect x="378" y="254" width="11" height="11" fill="#f5f9fe"/>
<rect x="389" y="254" width="11" height="11" fill="#9dcae1"/>
<rect x="400" y="254" width="12" height="11" fill="#d5e5f4"/>
<rect x="412" y="254" width="11" height="11" fill="#4191c6"/>
<rect x="423" y="254" width="12" height="11" fill="#6aaed6"/>
<rect x="435" y="254" width="11" height="11" fill="#cbdef1"/>
<rect x="446" y="254" width="12" height="11" fill="#5ba3d0"/>
<rect x="458" y="254" width="11" height="11" fill="#d5e5f4"/>
<rect x="469" y="254" width="12" height="11" fill="#2777b8"/>
<rect x="481" y="254" width="11" height="11" fill="#d5e5f4"/>
<rect x="492" y="254" width="12" height="11" fill="#a6cee4"/>
<rect x="504" y="254" width="11" height="11" fill="#d5e5f4"/>
<rect x="515" y="254" width="11" height="11" fill="#d0e1f2"/>
<rect x="526" y="254" width="12" height="11" fill="#d5e5f4"/>
<rect x="538" y="254" width="11" height="11" fill="#cbdef1"/>
<rect x="549" y="254" width="12" height="11" fill="#b7d4ea"/>
<rect x="561" y="254" width="11" height="11" fill="#0d57a1"/>
<rect x="572" y="254" width="12" height="11" fill="#63a8d3"/>
<rect x="584" y="254" width="11" height="11" fill="#75b4d8"/>
<rect x="595" y="254" width="12" height="11" fill="#7fb9da"/>
<rect x="607" y="254" width="11" height="11" fill="#1c6ab0"/>
<rect x="618" y="254" width="12" height="11" fill="#5ba3d0"/>
<rect x="630" y="254" width="10" height="11" fill="#94c4df"/>
<rect x="378" y="265" width="11" height="12" fill="#f5f9fe"/>
<rect x="389" y="265" width="11" height="12" fill="#4a98c9"/>
<rect x="400" y="265" width="12" height="12" fill="#7fb9da"/>
<rect x="412" y="265" width="11" height="12" fill="#1764ab"/>
<rect x="423" y="265" width="12" height="12" fill="#4a98c9"/>
<rect x="435" y="265" width="11" height="12" fill="#63a8d3"/>
<rect x="446" y="265" width="12" height="12" fill="#3b8bc2"/>
<rect x="458" y="265" width="11" height="12" fill="#75b4d8"/>
<rect x="469" y="265" width="12" height="12" fill="#1764ab"/>
<rect x="481" y="265" width="11" height="12" fill="#7fb9da"/>
<rect x="492" y="265" width="12" height="12" fill="#5ba3d0"/>
<rect x="504" y="265" width="11" height="12" fill="#8abfdd"/>
<rect x="515" y="265" width="11" height="12" fill="#6aaed6"/>
<rect x="526" y="265" width="12" height="12" fill="#75b4d8"/>
<rect x="538" y="265" width="11" height="12" fill="#63a8d3"/>
<rect x="549" y="265" width="12" height="12" fill="#5ba3d0"/>
<rect x="561" y="265" width="11" height="12" fill="#08306b"/>
<rect x="572" y="265" width="12" height="12" fill="#4a98c9"/>
<rect x="584" y="265" width="11" height="12" fill="#4191c6"/>
<rect x="595" y="265" width="12" height="12" fill="#529dcc"/>
<rect x="607" y="265" width="11" height="12" fill="#1764ab"/>
<rect x="618" y="265" width="12" height="12" fill="#3b8bc2"/>
<rect x="630" y="265" width="10" height="12" fill="#6aaed6"/>
<rect x="389" y="277" width="11" height="11" fill="#75b4d8"/>
<rect x="400" y="277" width="12" height="11" fill="#cbdef1"/>
<rect x="412" y="277" width="11" height="11" fill="#2e7ebc"/>
<rect x="423" y="277" width="12" height="11" fill="#5ba3d0"/>
<rect x="435" y="277" width="11" height="11" fill="#b7d4ea"/>
<rect x="446" y="277" width="12" height="11" fill="#4a98c9"/>
<rect x="458" y="277" width="11" height="11" fill="#c6dbef"/>
<rect x="469" y="277" width="12" height="11" fill="#2070b4"/>
<rect x="481" y="277" width="11" height="11" fill="#cbdef1"/>
<rect x="492" y="277" width="12" height="11" fill="#94c4df"/>
<rect x="504" y="277" width="11" height="11" fill="#cbdef1"/>
<rect x="515" y="277" width="11" height="11" fill="#bed8ec"/>
<rect x="526" y="277" width="12" height="11" fill="#cbdef1"/>
<rect x="538" y="277" width="11" height="11" fill="#b7d4ea"/>
<rect x="549" y="277" width="12" height="11" fill="#9dcae1"/>
<rect x="561" y="277" width="11" height="11" fill="#084a91"/>
<rect x="572" y="277" width="12" height="11" fill="#529dcc"/>
<rect x="584" y="277" width="11" height="11" fill="#529dcc"/>
<rect x="595" y="277" width="12" height="11" fill="#5ba3d0"/>
<rect x="607" y="277" width="11" height="11" fill="#1764ab"/>
<rect x="618" y="277" width="12" height="11" fill="#5ba3d0"/>
<rect x="630" y="277" width="10" height="11" fill="#7fb9da"/>
<rect x="400" y="288" width="12" height="12" fill="#eef5fc"/>
<rect x="412" y="288" width="11" height="12" fill="#f5f9fe"/>
<rect x="423" y="288" width="12" height="12" fill="#f2f8fd"/>
<rect x="435" y="288" width="11" height="12" fill="#f2f8fd"/>
<rect x="446" y="288" width="12" height="12" fill="#f2f8fd"/>
<rect x="458" y="288" width="11" height="12" fill="#f5f9fe"/>
<rect x="469" y="288" width="12" height="12" fill="#eef5fc"/>
<rect x="481" y="288" width="11" height="12" fill="#f2f8fd"/>
<rect x="492" y="288" width="12" height="12" fill="#eef5fc"/>
<rect x="504" y="288" width="11" height="12" fill="#f5f9fe"/>
<rect x="515" y="288" width="11" height="12" fill="#eff6fc"/>
<rect x="526" y="288" width="12" height="12" fill="#eef5fc"/>
<rect x="538" y="288" width="11" height="12" fill="#f2f8fd"/>
<rect x="549" y="288" width="12" height="12" fill="#f5f9fe"/>
<rect x="561" y="288" width="11" height="12" fill="#f2f8fd"/>
<rect x="572" y="288" width="12" height="12" fill="#b7d4ea"/>
<rect x="584" y="288" width="11" height="12" fill="#f5f9fe"/>
<rect x="595" y="288" width="12" height="12" fill="#c6dbef"/>
<rect x="607" y="288" width="11" height="12" fill="#4191c6"/>
<rect x="618" y="288" width="12" height="12" fill="#75b4d8"/>
<rect x="630" y="288" width="10" height="12" fill="#aed1e7"/>
<rect x="412" y="300" width="11" height="11" fill="#b7d4ea"/>
<rect x="423" y="300" width="12" height="11" fill="#c6dbef"/>
<rect x="435" y="300" width="11" height="11" fill="#f5f9fe"/>
<rect x="446" y="300" width="12" height="11" fill="#e3eef9"/>
<rect x="458" y="300" width="11" height="11" fill="#f5f9fe"/>
<rect x="469" y="300" width="12" height="11" fill="#d5e5f4"/>
<rect x="481" y="300" width="11" height="11" fill="#f2f8fd"/>
<rect x="492" y="300" width="12" height="11" fill="#f5f9fe"/>
<rect x="504" y="300" width="11" height="11" fill="#f5f9fe"/>
<rect x="515" y="300" width="11" height="11" fill="#f5f9fe"/>
<rect x="526" y="300" width="12" height="11" fill="#f2f8fd"/>
<rect x="538" y="300" width="11" height="11" fill="#f2f8fd"/>
<rect x="549" y="300" width="12" height="11" fill="#f2f8fd"/>
<rect x="561" y="300" width="11" height="11" fill="#a6cee4"/>
<rect x="572" y="300" width="12" height="11" fill="#9dcae1"/>
<rect x="584" y="300" width="11" height="11" fill="#d0e1f2"/>
<rect x="595" y="300" width="12" height="11" fill="#aed1e7"/>
<rect x="607" y="300" width="11" height="11" fill="#1c6ab0"/>
<rect x="618" y="300" width="12" height="11" fill="#5ba3d0"/>
<rect x="630" y="300" width="10" height="11" fill="#8abfdd"/>
<rect x="423" y="311" width="12" height="11" fill="#f5f9fe"/>
<rect x="435" y="311" width="11" height="11" fill="#d9e8f5"/>
<rect x="446" y="311" width="12" height="11" fill="#f5f9fe"/>
<rect x="458" y="311" width="11" height="11" fill="#eef5fc"/>
<rect x="469" y="311" width="12" height="11" fill="#d9e8f5"/>
<rect x="481" y="311" width="11" height="11" fill="#e3eef9"/>
<rect x="492" y="311" width="12" height="11" fill="#d0e1f2"/>
<rect x="504" y="311" width="11" height="11" fill="#cbdef1"/>
<rect x="515" y="311" width="11" height="11" fill="#aed1e7"/>
<rect x="526" y="311" width="12" height="11" fill="#e8f1fa"/>
<rect x="538" y="311" width="11" height="11" fill="#e3eef9"/>
<rect x="549" y="311" width="12" height="11" fill="#eef5fc"/>
<rect x="561" y="311" width="11" height="11" fill="#f2f8fd"/>
<rect x="572" y="311" width="12" height="11" fill="#e8f1fa"/>
<rect x="584" y="311" width="11" height="11" fill="#f2f8fd"/>
<rect x="595" y="311" width="12" height="11" fill="#6aaed6"/>
<rect x="607" y="311" width="11" height="11" fill="#1764ab"/>
<rect x="618" y="311" width="12" height="11" fill="#125da6"/>
<rect x="630" y="311" width="10" height="11" fill="#4191c6"/>
<rect x="435" y="322" width="11" height="12" fill="#d0e1f2"/>
<rect x="446" y="322" width="12" height="12" fill="#f5f9fe"/>
<rect x="458" y="322" width="11" height="12" fill="#cbdef1"/>
<rect x="469" y="322" width="12" height="12" fill="#f2f8fd"/>
<rect x="481" y="322" width="11" height="12" fill="#bed8ec"/>
<rect x="492" y="322" width="12" height="12" fill="#b7d4ea"/>
<rect x="504" y="322" width="11" height="12" fill="#c6dbef"/>
<rect x="515" y="322" width="11" height="12" fill="#c6dbef"/>
<rect x="526" y="322" width="12" height="12" fill="#c6dbef"/>
<rect x="538" y="322" width="11" height="12" fill="#b7d4ea"/>
<rect x="549" y="322" width="12" height="12" fill="#d5e5f4"/>
<rect x="561" y="322" width="11" height="12" fill="#f2f8fd"/>
<rect x="572" y="322" width="12" height="12" fill="#f5f9fe"/>
<rect x="584" y="322" width="11" height="12" fill="#f2f8fd"/>
<rect x="595" y="322" width="12" height="12" fill="#b7d4ea"/>
<rect x="607" y="322" width="11" height="12" fill="#63a8d3"/>
<rect x="618" y="322" width="12" height="12" fill="#4191c6"/>
<rect x="630" y="322" width="10" height="12" fill="#9dcae1"/>
<rect x="446" y="334" width="12" height="11" fill="#e8f1fa"/>
<rect x="458" y="334" width="11" height="11" fill="#f5f9fe"/>
<rect x="469" y="334" width="12" height="11" fill="#deebf7"/>
<rect x="481" y="334" width="11" height="11" fill="#f2f8fd"/>
<rect x="492" y="334" width="12" height="11" fill="#f5f9fe"/>
<rect x="504" y="334" width="11" height="11" fill="#f5f9fe"/>
<rect x="515" y="334" width="11" height="11" fill="#f5f9fe"/>
<rect x="526" y="334" width="12" height="11" fill="#f2f8fd"/>
<rect x="538" y="334" width="11" height="11" fill="#f2f8fd"/>
<rect x="549" y="334" width="12" height="11" fill="#f2f8fd"/>
<rect x="561" y="334" width="11" height="11" fill="#c6dbef"/>
<rect x="572" y="334" width="12" height="11" fill="#cbdef1"/>
<rect x="584" y="334" width="11" height="11" fill="#e3eef9"/>
<rect x="595" y="334" width="12" height="11" fill="#b7d4ea"/>
<rect x="607" y="334" width="11" height="11" fill="#1764ab"/>
<rect x="618" y="334" width="12" height="11" fill="#63a8d3"/>
<rect x="630" y="334" width="10" height="11" fill="#7fb9da"/>
<rect x="458" y="345" width="11" height="12" fill="#e3eef9"/>
<rect x="469" y="345" width="12" height="12" fill="#f5f9fe"/>
<rect x="481" y="345" width="11" height="12" fill="#e3eef9"/>
<rect x="492" y="345" width="12" height="12" fill="#d5e5f4"/>
<rect x="504" y="345" width="11" height="12" fill="#e8f1fa"/>
<rect x="515" y="345" width="11" height="12" fill="#e3eef9"/>
<rect x="526" y="345" width="12" height="12" fill="#e3eef9"/>
<rect x="538" y="345" width="11" height="12" fill="#d9e8f5"/>
<rect x="549" y="345" width="12" height="12" fill="#e8f1fa"/>
<rect x="561" y="345" width="11" height="12" fill="#bed8ec"/>
<rect x="572" y="345" width="12" height="12" fill="#eef5fc"/>
<rect x="584" y="345" width="11" height="12" fill="#f5f9fe"/>
<rect x="595" y="345" width="12" height="12" fill="#f5f9fe"/>
<rect x="607" y="345" width="11" height="12" fill="#cbdef1"/>
<rect x="618" y="345" width="12" height="12" fill="#b7d4ea"/>
<rect x="630" y="345" width="10" height="12" fill="#deebf7"/>
<rect x="469" y="357" width="12" height="11" fill="#d5e5f4"/>
<rect x="481" y="357" width="11" height="11" fill="#f5f9fe"/>
<rect x="492" y="357" width="12" height="11" fill="#f5f9fe"/>
<rect x="504" y="357" width="11" height="11" fill="#f5f9fe"/>
<rect x="515" y="357" width="11" height="11" fill="#f2f8fd"/>
<rect x="526" y="357" width="12" height="11" fill="#f2f8fd"/>
<rect x="538" y="357" width="11" height="11" fill="#f5f9fe"/>
<rect x="549" y="357" width="12" height="11" fill="#f5f9fe"/>
<rect x="561" y="357" width="11" height="11" fill="#bed8ec"/>
<rect x="572" y="357" width="12" height="11" fill="#d9e8f5"/>
<rect x="584" y="357" width="11" height="11" fill="#eef5fc"/>
<rect x="595" y="357" width="12" height="11" fill="#a6cee4"/>
<rect x="607" y="357" width="11" height="11" fill="#08509b"/>
<rect x="618" y="357" width="12" height="11" fill="#63a8d3"/>
<rect x="630" y="357" width="10" height="11" fill="#75b4d8"/>
<rect x="481" y="368" width="11" height="12" fill="#d0e1f2"/>
<rect x="492" y="368" width="12" height="12" fill="#d0e1f2"/>
<rect x="504" y="368" width="11" height="12" fill="#d5e5f4"/>
<rect x="515" y="368" width="11" height="12" fill="#d9e8f5"/>
<rect x="526" y="368" width="12" height="12" fill="#cbdef1"/>
<rect x="538" y="368" width="11" height="12" fill="#d0e1f2"/>
<rect x="549" y="368" width="12" height="12" fill="#e3eef9"/>
<rect x="561" y="368" width="11" height="12" fill="#deebf7"/>
<rect x="572" y="368" width="12" height="12" fill="#d9e8f5"/>
<rect x="584" y="368" width="11" height="12" fill="#f2f8fd"/>
<rect x="595" y="368" width="12" height="12" fill="#f5f9fe"/>
<rect x="607" y="368" width="11" height="12" fill="#c6dbef"/>
<rect x="618" y="368" width="12" height="12" fill="#bed8ec"/>
<rect x="630" y="368" width="10" height="12" fill="#f2f8fd"/>
<rect x="492" y="380" width="12" height="11" fill="#f5f9fe"/>
<rect x="504" y="380" width="11" height="11" fill="#f5fafe"/>
<rect x="515" y="380" width="11" height="11" fill="#f5f9fe"/>
<rect x="526" y="380" width="12" height="11" fill="#f5fafe"/>
<rect x="538" y="380" width="11" height="11" fill="#f5f9fe"/>
<rect x="549" y="380" width="12" height="11" fill="#f5f9fe"/>
<rect x="561" y="380" width="11" height="11" fill="#bed8ec"/>
<rect x="572" y="380" width="12" height="11" fill="#d0e1f2"/>
<rect x="584" y="380" width="11" height="11" fill="#e3eef9"/>
<rect x="595" y="380" width="12" height="11" fill="#aed1e7"/>
<rect x="607" y="380" width="11" height="11" fill="#08509b"/>
<rect x="618" y="380" width="12" height="11" fill="#63a8d3"/>
<rect x="630" y="380" width="10" height="11" fill="#75b4d8"/>
<rect x="504" y="391" width="11" height="12" fill="#f5fafe"/>
<rect x="515" y="391" width="11" height="12" fill="#f5fafe"/>
<rect x="526" y="391" width="12" height="12" fill="#eef5fc"/>
<rect x="538" y="391" width="11" height="12" fill="#f5fafe"/>
<rect x="549" y="391" width="12" height="12" fill="#f5fafe"/>
<rect x="561" y="391" width="11" height="12" fill="#aed1e7"/>
<rect x="572" y="391" width="12" height="12" fill="#cbdef1"/>
<rect x="584" y="391" width="11" height="12" fill="#deebf7"/>
<rect x="595" y="391" width="12" height="12" fill="#aed1e7"/>
<rect x="607" y="391" width="11" height="12" fill="#08509b"/>
<rect x="618" y="391" width="12" height="12" fill="#8abfdd"/>
<rect x="630" y="391" width="10" height="12" fill="#75b4d8"/>
<rect x="515" y="403" width="11" height="11" fill="#f5fafe"/>
<rect x="526" y="403" width="12" height="11" fill="#f5fafe"/>
<rect x="538" y="403" width="11" height="11" fill="#f5f9fe"/>
<rect x="549" y="403" width="12" height="11" fill="#f5f9fe"/>
<rect x="561" y="403" width="11" height="11" fill="#bed8ec"/>
<rect x="572" y="403" width="12" height="11" fill="#bed8ec"/>
<rect x="584" y="403" width="11" height="11" fill="#deebf7"/>
<rect x="595" y="403" width="12" height="11" fill="#b7d4ea"/>
<rect x="607" y="403" width="11" height="11" fill="#0d57a1"/>
<rect x="618" y="403" width="12" height="11" fill="#5ba3d0"/>
<rect x="630" y="403" width="10" height="11" fill="#7fb9da"/>
<rect x="526" y="414" width="12" height="11" fill="#f5f9fe"/>
<rect x="538" y="414" width="11" height="11" fill="#f5f9fe"/>
<rect x="549" y="414" width="12" height="11" fill="#f5f9fe"/>
<rect x="561" y="414" width="11" height="11" fill="#b7d4ea"/>
<rect x="572" y="414" width="12" height="11" fill="#a6cee4"/>
<rect x="584" y="414" width="11" height="11" fill="#d5e5f4"/>
<rect x="595" y="414" width="12" height="11" fill="#b7d4ea"/>
<rect x="607" y="414" width="11" height="11" fill="#2070b4"/>
<rect x="618" y="414" width="12" height="11" fill="#5ba3d0"/>
<rect x="630" y="414" width="10" height="11" fill="#8abfdd"/>
<rect x="538" y="425" width="11" height="12" fill="#eff6fc"/>
<rect x="549" y="425" width="12" height="12" fill="#f5f9fe"/>
<rect x="561" y="425" width="11" height="12" fill="#b7d4ea"/>
<rect x="572" y="425" width="12" height="12" fill="#d9e8f5"/>
<rect x="584" y="425" width="11" height="12" fill="#eef5fc"/>
<rect x="595" y="425" width="12" height="12" fill="#aed1e7"/>
<rect x="607" y="425" width="11" height="12" fill="#084488"/>
<rect x="618" y="425" width="12" height="12" fill="#5ba3d0"/>
<rect x="630" y="425" width="10" height="12" fill="#75b4d8"/>
<rect x="561" y="437" width="11" height="11" fill="#a6cee4"/>
<rect x="572" y="437" width="12" height="11" fill="#cbdef1"/>
<rect x="584" y="437" width="11" height="11" fill="#e8f1fa"/>
<rect x="595" y="437" width="12" height="11" fill="#aed1e7"/>
<rect x="607" y="437" width="11" height="11" fill="#084488"/>
<rect x="618" y="437" width="12" height="11" fill="#75b4d8"/>
<rect x="630" y="437" width="10" height="11" fill="#75b4d8"/>
<rect x="561" y="448" width="11" height="12" fill="#d0e1f2"/>
<rect x="572" y="448" width="12" height="12" fill="#d0e1f2"/>
<rect x="584" y="448" width="11" height="12" fill="#f2f8fd"/>
<rect x="595" y="448" width="12" height="12" fill="#bed8ec"/>
<rect x="607" y="448" width="11" height="12" fill="#2070b4"/>
<rect x="618" y="448" width="12" height="12" fill="#7fb9da"/>
<rect x="630" y="448" width="10" height="12" fill="#8abfdd"/>
<rect x="572" y="460" width="12" height="11" fill="#e3eef9"/>
<rect x="584" y="460" width="11" height="11" fill="#d9e8f5"/>
<rect x="595" y="460" width="12" height="11" fill="#94c4df"/>
<rect x="607" y="460" width="11" height="11" fill="#1c6ab0"/>
<rect x="618" y="460" width="12" height="11" fill="#08509b"/>
<rect x="630" y="460" width="10" height="11" fill="#4a98c9"/>
<rect x="584" y="471" width="11" height="12" fill="#d5e5f4"/>
<rect x="595" y="471" width="12" height="12" fill="#94c4df"/>
<rect x="607" y="471" width="11" height="12" fill="#5ba3d0"/>
<rect x="618" y="471" width="12" height="12" fill="#3b8bc2"/>
<rect x="630" y="471" width="10" height="12" fill="#8abfdd"/>
<rect x="595" y="483" width="12" height="11" fill="#cbdef1"/>
<rect x="607" y="483" width="11" height="11" fill="#7fb9da"/>
<rect x="618" y="483" width="12" height="11" fill="#7fb9da"/>
<rect x="630" y="483" width="10" height="11" fill="#b7d4ea"/>
<rect x="607" y="494" width="11" height="12" fill="#f5f9fe"/>
<rect x="618" y="494" width="12" height="12" fill="#f2f8fd"/>
<rect x="630" y="494" width="10" height="12" fill="#f5f9fe"/>
<rect x="618" y="506" width="12" height="11" fill="#f5f9fe"/>
<rect x="630" y="506" width="10" height="11" fill="#f5f9fe"/>
<rect x="630" y="517" width="10" height="12" fill="#f5f9fe"/>
</g>
<rect x="166" y="61" width="1" height="5.5" fill="#262626"/>
<rect x="166" y="534.5" width="1" height="5.5" fill="#262626"/>
<rect x="161" y="66" width="5.5" height="1" fill="#262626"/>
<rect x="634.5" y="66" width="5.5" height="1" fill="#262626"/>
<rect x="177" y="61" width="1" height="5.5" fill="#262626"/>
<rect x="177" y="534.5" width="1" height="5.5" fill="#262626"/>
<rect x="161" y="77" width="5.5" height="1" fill="#262626"/>
<rect x="634.5" y="77" width="5.5" height="1" fill="#262626"/>
<rect x="189" y="61" width="1" height="5.5" fill="#262626"/>
<rect x="189" y="534.5" width="1" height="5.5" fill="#262626"/>
<rect x="161" y="89" width="5.5" height="1" fill="#262626"/>
<rect x="634.5" y="89" width="5.5" height="1" fill="#262626"/>
<rect x="200" y="61" width="1" height="5.5" fill="#262626"/>
<rect x="200" y="534.5" width="1" height="5.5" fill="#262626"/>
<rect x="161" y="100" width="5.5" height="1" fill="#262626"/>
<rect x="634.5" y="100" width="5.5" height="1" fill="#262626"/>
<rect x="211" y="61" width="1" height="5.5" fill="#262626"/>
<rect x="211" y="534.5" width="1" height="5.5" fill="#262626"/>
<rect x="161" y="111" width="5.5" height="1" fill="#262626"/>
<rect x="634.5" y="111" width="5.5" height="1" fill="#262626"/>
<rect x="223" y="61" width="1" height="5.5" fill="#262626"/>
<rect x="223" y="534.5" width="1" height="5.5" fill="#262626"/>
<rect x="161" y="123" width="5.5" height="1" fill="#262626"/>
<rect x="634.5" y="123" width="5.5" height="1" fill="#262626"/>
<rect x="234" y="61" width="1" height="5.5" fill="#262626"/>
<rect x="234" y="534.5" width="1" height="5.5" fill="#262626"/>
<rect x="161" y="134" width="5.5" height="1" fill="#262626"/>
<rect x="634.5" y="134" width="5.5" height="1" fill="#262626"/>
<rect x="246" y="61" width="1" height="5.5" fill="#262626"/>
<rect x="246" y="534.5" width="1" height="5.5" fill="#262626"/>
<rect x="161" y="146" width="5.5" height="1" fill="#262626"/>
<rect x="634.5" y="146" width="5.5" height="1" fill="#262626"/>
<rect x="257" y="61" width="1" height="5.5" fill="#262626"/>
<rect x="257" y="534.5" width="1" height="5.5" fill="#262626"/>
<rect x="161" y="157" width="5.5" height="1" fill="#262626"/>
<rect x="634.5" y="157" width="5.5" height="1" fill="#262626"/>
<rect x="269" y="61" width="1" height="5.5" fill="#262626"/>
<rect x="269" y="534.5" width="1" height="5.5" fill="#262626"/>
<rect x="161" y="169" width="5.5" height="1" fill="#262626"/>
<rect x="634.5" y="169" width="5.5" height="1" fill="#262626"/>
<rect x="280" y="61" width="1" height="5.5" fill="#262626"/>
<rect x="280" y="534.5" width="1" height="5.5" fill="#262626"/>
<rect x="161" y="180" width="5.5" height="1" fill="#262626"/>
<rect x="634.5" y="180" width="5.5" height="1" fill="#262626"/>
<rect x="291" y="61" width="1" height="5.5" fill="#262626"/>
<rect x="291" y="534.5" width="1" height="5.5" fill="#262626"/>
<rect x="161" y="191" width="5.5" height="1" fill="#262626"/>
<rect x="634.5" y="191" width="5.5" height="1" fill="#262626"/>
<rect x="303" y="61" width="1" height="5.5" fill="#262626"/>
<rect x="303" y="534.5" width="1" height="5.5" fill="#262626"/>
<rect x="161" y="203" width="5.5" height="1" fill="#262626"/>
<rect x="634.5" y="203" width="5.5" height="1" fill="#262626"/>
<rect x="314" y="61" width="1" height="5.5" fill="#262626"/>
<rect x="314" y="534.5" width="1" height="5.5" fill="#262626"/>
<rect x="161" y="214" width="5.5" height="1" fill="#262626"/>
<rect x="634.5" y="214" width="5.5" height="1" fill="#262626"/>
<rect x="326" y="61" width="1" height="5.5" fill="#262626"/>
<rect x="326" y="534.5" width="1" height="5.5" fill="#262626"/>
<rect x="161" y="226" width="5.5" height="1" fill="#262626"/>
<rect x="634.5" y="226" width="5.5" height="1" fill="#262626"/>
<rect x="337" y="61" width="1" height="5.5" fill="#262626"/>
<rect x="337" y="534.5" width="1" height="5.5" fill="#262626"/>
<rect x="161" y="237" width="5.5" height="1" fill="#262626"/>
<rect x="634.5" y="237" width="5.5" height="1" fill="#262626"/>
<rect x="349" y="61" width="1" height="5.5" fill="#262626"/>
<rect x="349" y="534.5" width="1" height="5.5" fill="#262626"/>
<rect x="161" y="249" width="5.5" height="1" fill="#262626"/>
<rect x="634.5" y="249" width="5.5" height="1" fill="#262626"/>
<rect x="360" y="61" width="1" height="5.5" fill="#262626"/>
<rect x="360" y="534.5" width="1" height="5.5" fill="#262626"/>
<rect x="161" y="260" width="5.5" height="1" fill="#262626"/>
<rect x="634.5" y="260" width="5.5" height="1" fill="#262626"/>
<rect x="371" y="61" width="1" height="5.5" fill="#262626"/>
<rect x="371" y="534.5" width="1" height="5.5" fill="#262626"/>
<rect x="161" y="271" width="5.5" height="1" fill="#262626"/>
<rect x="634.5" y="271" width="5.5" height="1" fill="#262626"/>
<rect x="383" y="61" width="1" height="5.5" fill="#262626"/>
<rect x="383" y="534.5" width="1" height="5.5" fill="#262626"/>
<rect x="161" y="283" width="5.5" height="1" fill="#262626"/>
<rect x="634.5" y="283" width="5.5" height="1" fill="#262626"/>
<rect x="394" y="61" width="1" height="5.5" fill="#262626"/>
<rect x="394" y="534.5" width="1" height="5.5" fill="#262626"/>
<rect x="161" y="294" width="5.5" height="1" fill="#262626"/>
<rect x="634.5" y="294" width="5.5" height="1" fill="#262626"/>
<rect x="406" y="61" width="1" height="5.5" fill="#262626"/>
<rect x="406" y="534.5" width="1" height="5.5" fill="#262626"/>
<rect x="161" y="306" width="5.5" height="1" fill="#262626"/>
<rect x="634.5" y="306" width="5.5" height="1" fill="#262626"/>
<rect x="417" y="61" width="1" height="5.5" fill="#262626"/>
<rect x="417" y="534.5" width="1" height="5.5" fill="#262626"/>
<rect x="161" y="317" width="5.5" height="1" fill="#262626"/>
<rect x="634.5" y="317" width="5.5" height="1" fill="#262626"/>
<rect x="429" y="61" width="1" height="5.5" fill="#262626"/>
<rect x="429" y="534.5" width="1" height="5.5" fill="#262626"/>
<rect x="161" y="329" width="5.5" height="1" fill="#262626"/>
<rect x="634.5" y="329" width="5.5" height="1" fill="#262626"/>
<rect x="440" y="61" width="1" height="5.5" fill="#262626"/>
<rect x="440" y="534.5" width="1" height="5.5" fill="#262626"/>
<rect x="161" y="340" width="5.5" height="1" fill="#262626"/>
<rect x="634.5" y="340" width="5.5" height="1" fill="#262626"/>
<rect x="451" y="61" width="1" height="5.5" fill="#262626"/>
<rect x="451" y="534.5" width="1" height="5.5" fill="#262626"/>
<rect x="161" y="351" width="5.5" height="1" fill="#262626"/>
<rect x="634.5" y="351" width="5.5" height="1" fill="#262626"/>
<rect x="463" y="61" width="1" height="5.5" fill="#262626"/>
<rect x="463" y="534.5" width="1" height="5.5" fill="#262626"/>
<rect x="161" y="363" width="5.5" height="1" fill="#262626"/>
<rect x="634.5" y="363" width="5.5" height="1" fill="#262626"/>
<rect x="474" y="61" width="1" height="5.5" fill="#262626"/>
<rect x="474" y="534.5" width="1" height="5.5" fill="#262626"/>
<rect x="161" y="374" width="5.5" height="1" fill="#262626"/>
<rect x="634.5" y="374" width="5.5" height="1" fill="#262626"/>
<rect x="486" y="61" width="1" height="5.5" fill="#262626"/>
<rect x="486" y="534.5" width="1" height="5.5" fill="#262626"/>
<rect x="161" y="386" width="5.5" height="1" fill="#262626"/>
<rect x="634.5" y="386" width="5.5" height="1" fill="#262626"/>
<rect x="497" y="61" width="1" height="5.5" fill="#262626"/>
<rect x="497" y="534.5" width="1" height="5.5" fill="#262626"/>
<rect x="161" y="397" width="5.5" height="1" fill="#262626"/>
<rect x="634.5" y="397" width="5.5" height="1" fill="#262626"/>
<rect x="509" y="61" width="1" height="5.5" fill="#262626"/>
<rect x="509" y="534.5" width="1" height="5.5" fill="#262626"/>
<rect x="161" y="409" width="5.5" height="1" fill="#262626"/>
<rect x="634.5" y="409" width="5.5" height="1" fill="#262626"/>
<rect x="520" y="61" width="1" height="5.5" fill="#262626"/>
<rect x="520" y="534.5" width="1" height="5.5" fill="#262626"/>
<rect x="161" y="420" width="5.5" height="1" fill="#262626"/>
<rect x="634.5" y="420" width="5.5" height="1" fill="#262626"/>
<rect x="531" y="61" width="1" height="5.5" fill="#262626"/>
<rect x="531" y="534.5" width="1" height="5.5" fill="#262626"/>
<rect x="161" y="431" width="5.5" height="1" fill="#262626"/>
<rect x="634.5" y="431" width="5.5" height="1" fill="#262626"/>
<rect x="543" y="61" width="1" height="5.5" fill="#262626"/>
<rect x="543" y="534.5" width="1" height="5.5" fill="#262626"/>
<rect x="161" y="443" width="5.5" height="1" fill="#262626"/>
<rect x="634.5" y="443" width="5.5" height="1" fill="#262626"/>
<rect x="554" y="61" width="1" height="5.5" fill="#262626"/>
<rect x="554" y="534.5" width="1" height="5.5" fill="#262626"/>
<rect x="161" y="454" width="5.5" height="1" fill="#262626"/>
<rect x="634.5" y="454" width="5.5" height="1" fill="#262626"/>
<rect x="566" y="61" width="1" height="5.5" fill="#262626"/>
<rect x="566" y="534.5" width="1" height="5.5" fill="#262626"/>
<rect x="161" y="466" width="5.5" height="1" fill="#262626"/>
<rect x="634.5" y="466" width="5.5" height="1" fill="#262626"/>
<rect x="577" y="61" width="1" height="5.5" fill="#262626"/>
<rect x="577" y="534.5" width="1" height="5.5" fill="#262626"/>
<rect x="161" y="477" width="5.5" height="1" fill="#262626"/>
<rect x="634.5" y="477" width="5.5" height="1" fill="#262626"/>
<rect x="589" y="61" width="1" height="5.5" fill="#262626"/>
<rect x="589" y="534.5" width="1" height="5.5" fill="#262626"/>
<rect x="161" y="489" width="5.5" height="1" fill="#262626"/>
<rect x="634.5" y="489" width="5.5" height="1" fill="#262626"/>
<rect x="600" y="61" width="1" height="5.5" fill="#262626"/>
<rect x="600" y="534.5" width="1" height="5.5" fill="#262626"/>
<rect x="161" y="500" width="5.5" height="1" fill="#262626"/>
<rect x="634.5" y="500" width="5.5" height="1" fill="#262626"/>
<rect x="611" y="61" width="1" height="5.5" fill="#262626"/>
<rect x="611" y="534.5" width="1" height="5.5" fill="#262626"/>
<rect x="161" y="511" width="5.5" height="1" fill="#262626"/>
<rect x="634.5" y="511" width="5.5" height="1" fill="#262626"/>
<rect x="623" y="61" width="1" height="5.5" fill="#262626"/>
<rect x="623" y="534.5" width="1" height="5.5" fill="#262626"/>
<rect x="161" y="523" width="5.5" height="1" fill="#262626"/>
<rect x="634.5" y="523" width="5.5" height="1" fill="#262626"/>
<rect x="634" y="61" width="1" height="5.5" fill="#262626"/>
<rect x="634" y="534.5" width="1" height="5.5" fill="#262626"/>
<rect x="161" y="534" width="5.5" height="1" fill="#262626"/>
<rect x="634.5" y="534" width="5.5" height="1" fill="#262626"/>
<g shape-rendering="crispEdges">
<rect x="160" y="60" width="481" height="1" fill="#000"/>
<rect x="160" y="540" width="481" height="1" fill="#000"/>
<rect x="160" y="60" width="1" height="481" fill="#000"/>
<rect x="640" y="60" width="1" height="481" fill="#000"/>
<rect x="681" y="61" width="15" height="479" fill="url(#g)"/>
<rect x="680" y="60" width="17" height="1" fill="#000"/>
<rect x="680" y="540" width="17" height="1" fill="#000"/>
<rect x="680" y="60" width="1" height="481" fill="#000"/>
<rect x="696" y="60" width="1" height="481" fill="#000"/>
</g>
<rect x="690.5" y="539.50" width="5.5" height="1" fill="#262626"/>
<rect x="690.5" y="476.55" width="5.5" height="1" fill="#262626"/>
<rect x="690.5" y="413.59" width="5.5" height="1" fill="#262626"/>
<rect x="690.5" y="350.64" width="5.5" height="1" fill="#262626"/>
<rect x="690.5" y="287.69" width="5.5" height="1" fill="#262626"/>
<rect x="690.5" y="224.73" width="5.5" height="1" fill="#262626"/>
<rect x="690.5" y="161.78" width="5.5" height="1" fill="#262626"/>
<rect x="690.5" y="98.82" width="5.5" height="1" fill="#262626"/>
<g style="will-change:transform">
<text x="165.71" y="54" text-anchor="middle" textLength="25.5" lengthAdjust="spacingAndGlyphs">C1'</text>
<text x="155" y="72.01" text-anchor="end" textLength="25.5" lengthAdjust="spacingAndGlyphs">C1'</text>
<text x="222.86" y="54" text-anchor="middle" textLength="25.5" lengthAdjust="spacingAndGlyphs">C4'</text>
<text x="155" y="129.16" text-anchor="end" textLength="25.5" lengthAdjust="spacingAndGlyphs">C4'</text>
<text x="280.00" y="54" text-anchor="middle">N3</text>
<text x="155" y="186.30" text-anchor="end">N3</text>
<text x="337.14" y="54" text-anchor="middle" textLength="26.5" lengthAdjust="spacingAndGlyphs">O4'</text>
<text x="155" y="243.44" text-anchor="end" textLength="26.5" lengthAdjust="spacingAndGlyphs">O4'</text>
<text x="394.29" y="54" text-anchor="middle" textLength="25.5" lengthAdjust="spacingAndGlyphs">C1'</text>
<text x="155" y="300.59" text-anchor="end" textLength="25.5" lengthAdjust="spacingAndGlyphs">C1'</text>
<text x="451.43" y="54" text-anchor="middle" textLength="25.5" lengthAdjust="spacingAndGlyphs">C4'</text>
<text x="155" y="357.73" text-anchor="end" textLength="25.5" lengthAdjust="spacingAndGlyphs">C4'</text>
<text x="508.57" y="54" text-anchor="middle">N1</text>
<text x="155" y="414.87" text-anchor="end">N1</text>
<text x="565.71" y="54" text-anchor="middle" textLength="26.5" lengthAdjust="spacingAndGlyphs">O2'</text>
<text x="155" y="472.01" text-anchor="end" textLength="26.5" lengthAdjust="spacingAndGlyphs">O2'</text>
<text x="622.86" y="54" text-anchor="middle">OP2</text>
<text x="155" y="529.16" text-anchor="end">OP2</text>
<text x="701" y="546.00" textLength="35" lengthAdjust="spacingAndGlyphs">0.00</text>
<text x="701" y="483.05" textLength="35" lengthAdjust="spacingAndGlyphs">0.15</text>
<text x="701" y="420.09" textLength="35" lengthAdjust="spacingAndGlyphs">0.30</text>
<text x="701" y="357.14" textLength="35" lengthAdjust="spacingAndGlyphs">0.45</text>
<text x="701" y="294.19" textLength="35" lengthAdjust="spacingAndGlyphs">0.60</text>
<text x="701" y="231.23" textLength="35" lengthAdjust="spacingAndGlyphs">0.75</text>
<text x="701" y="168.28" textLength="35" lengthAdjust="spacingAndGlyphs">0.90</text>
<text x="701" y="105.32" textLength="35" lengthAdjust="spacingAndGlyphs">1.05</text>
</g>
</svg>
</body></html>
